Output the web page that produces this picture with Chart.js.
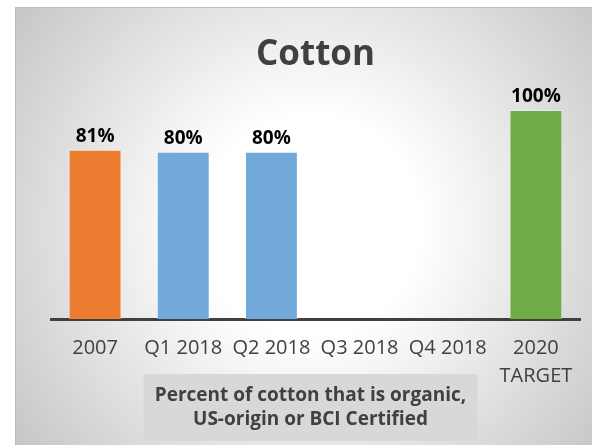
<!DOCTYPE html>
<html>
<head>
<meta charset="utf-8">
<script src="https://cdn.jsdelivr.net/npm/chart.js@4.4.1/dist/chart.umd.min.js"></script>
<style>
    html, body { margin: 0; padding: 0; background: #fff; }
    #wrap { width: 592px; height: 445px; position: relative; }
</style>
</head>
<body>
<div id="wrap"><canvas id="cotton-chart"></canvas></div>
<script>
const categories = ['2007', 'Q1 2018', 'Q2 2018', 'Q3 2018', 'Q4 2018', ['2020', 'TARGET']];
const percentCotton = [81, 80, 80, null, null, 100];
const barColors = ['#ED7D31', '#72A9DB', '#72A9DB', '#72A9DB', '#72A9DB', '#70AD47'];
const chartTitle = 'Cotton';
const captionLines = ['Percent of cotton that is organic,', 'US-origin or BCI Certified'];

const FONT = '"Open Sans", Lato, sans-serif';

// gradient background + thin frame like the Excel chart area
const backgroundPlugin = {
    id: 'bg',
    beforeDraw(chart) {
        const ctx = chart.ctx;
        const w = chart.width, h = chart.height;
        ctx.save();
        ctx.fillStyle = '#ffffff';
        ctx.fillRect(0, 0, w, h);
        const left = 15, top = 7, right = 605, bottom = 445;
        const cx = (left + right) / 2, cy = (top + bottom) / 2;
        const r = Math.hypot(right - cx, bottom - cy);
        const g = ctx.createRadialGradient(cx, cy, 0, cx, cy, r);
        g.addColorStop(0, '#ffffff');
        g.addColorStop(0.3, '#ffffff');
        g.addColorStop(1, '#c6c6c6');
        ctx.fillStyle = g;
        ctx.fillRect(left, top, right - left, bottom - top);
        ctx.strokeStyle = '#bdbdbd';
        ctx.lineWidth = 1;
        ctx.beginPath();
        ctx.moveTo(left + 0.5, bottom);
        ctx.lineTo(left + 0.5, top + 0.5);
        ctx.lineTo(w, top + 0.5);
        ctx.stroke();
        ctx.restore();
    }
};

// value labels above bars
const valueLabelPlugin = {
    id: 'valueLabels',
    afterDatasetsDraw(chart) {
        const ctx = chart.ctx;
        const meta = chart.getDatasetMeta(0);
        ctx.save();
        ctx.font = 'bold 19px ' + FONT;
        ctx.fillStyle = '#000000';
        ctx.textAlign = 'center';
        ctx.textBaseline = 'alphabetic';
        meta.data.forEach((bar, i) => {
            const v = percentCotton[i];
            if (v === null) return;
            ctx.fillText(v + '%', bar.x, bar.y - 8);
        });
        ctx.restore();
    }
};

// grey caption box under the axis
const captionPlugin = {
    id: 'caption',
    afterDraw(chart) {
        const ctx = chart.ctx;
        const area = chart.chartArea;
        const cx = (area.left + area.right) / 2 - 5;
        const boxW = 334, boxH = 67;
        const top = area.bottom + 55;
        ctx.save();
        ctx.fillStyle = '#d8d8d8';
        ctx.fillRect(cx - boxW / 2, top, boxW, boxH);
        ctx.font = 'bold 19px ' + FONT;
        ctx.fillStyle = '#404040';
        ctx.textAlign = 'center';
        ctx.textBaseline = 'middle';
        captionLines.forEach((line, i) => {
            ctx.fillText(line, cx, top + 22 + i * 24);
        });
        ctx.restore();
    }
};

new Chart(document.getElementById('cotton-chart'), {
    type: 'bar',
    data: {
        labels: categories,
        datasets: [{
            data: percentCotton,
            backgroundColor: barColors,
            borderColor: 'rgba(255,255,255,0.35)',
            borderWidth: 1,
            categoryPercentage: 1,
            barPercentage: 0.6
        }]
    },
    options: {
        responsive: true,
        maintainAspectRatio: false,
        animation: false,
        devicePixelRatio: 1,
        layout: {
            padding: { top: 12, left: 51, right: 12, bottom: 40 }
        },
        scales: {
            x: {
                grid: { display: false, drawTicks: false },
                border: { display: true, color: '#404040', width: 3 },
                ticks: {
                    color: '#404040',
                    font: { family: FONT, size: 20, lineHeight: 1.4 },
                    padding: 15,
                    maxRotation: 0,
                    minRotation: 0,
                    autoSkip: false
                }
            },
            y: {
                display: false,
                min: 0,
                max: 110
            }
        },
        plugins: {
            legend: { display: false },
            tooltip: { enabled: false },
            title: {
                display: true,
                text: chartTitle,
                color: '#404040',
                font: { family: FONT, size: 35, weight: 'bold', lineHeight: 1.2 },
                padding: { top: 22, bottom: 13 }
            }
        }
    },
    plugins: [backgroundPlugin, valueLabelPlugin, captionPlugin]
});
</script>
</body>
</html>
